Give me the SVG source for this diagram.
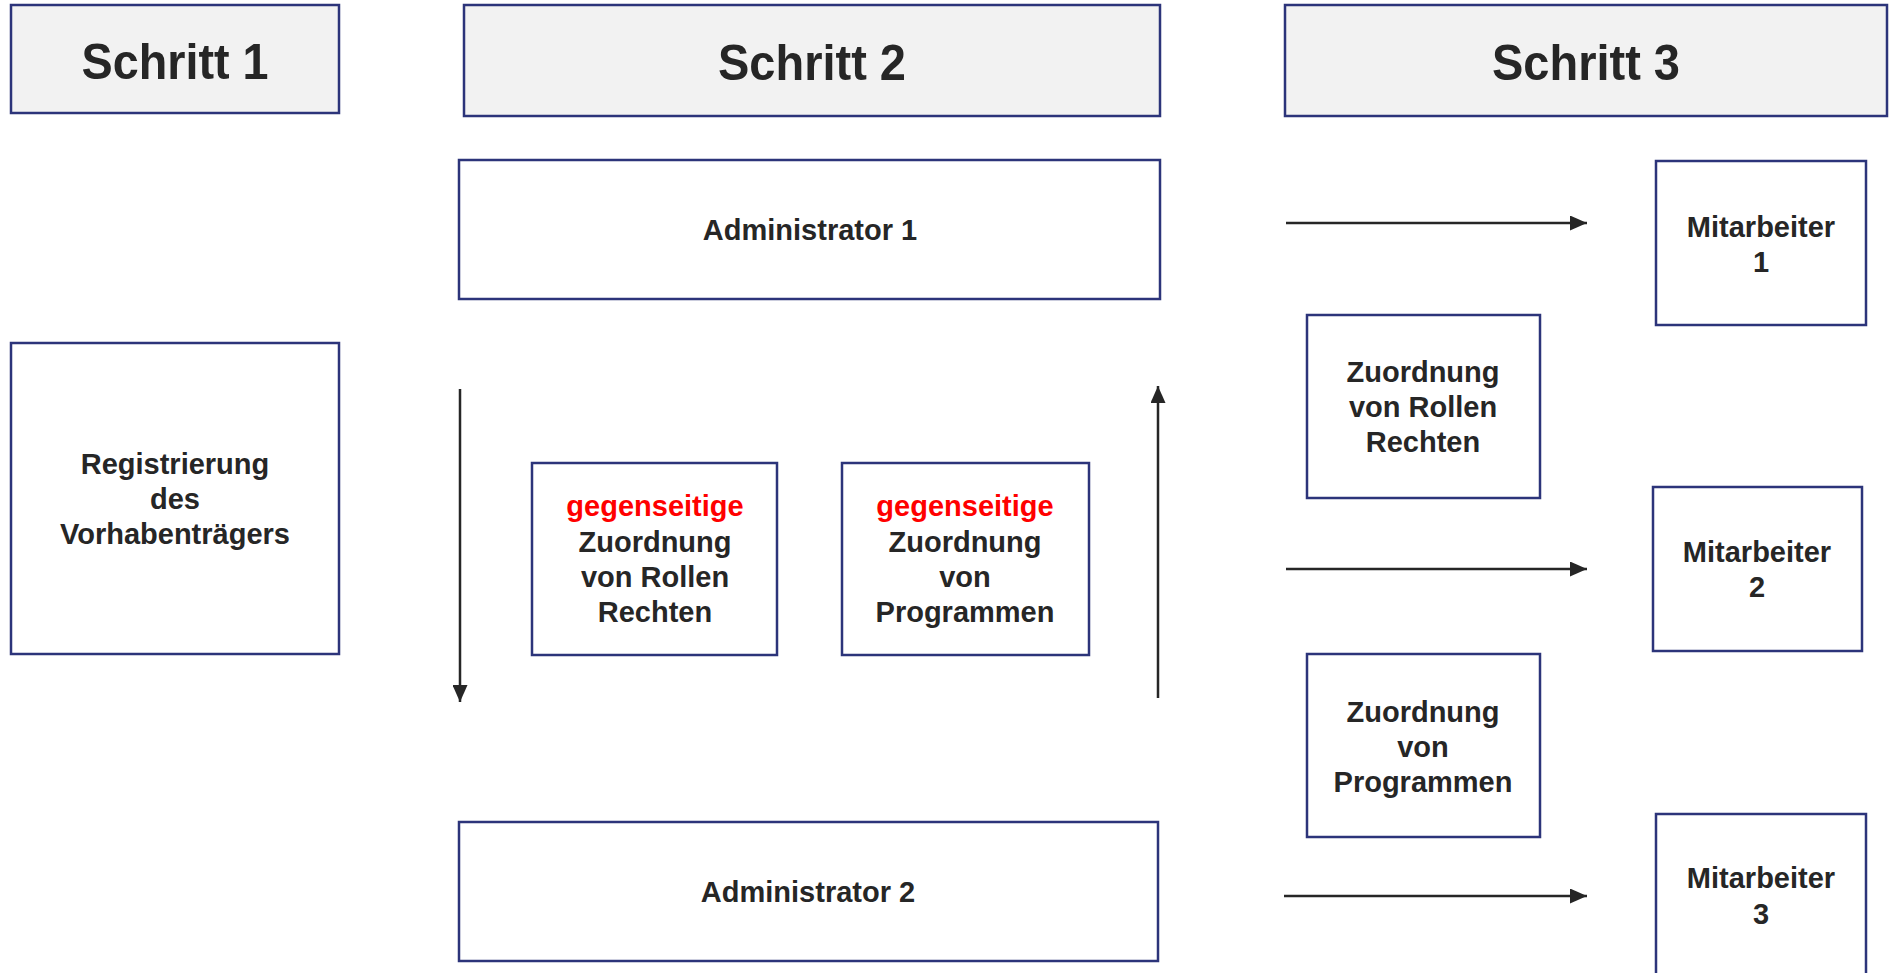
<svg xmlns="http://www.w3.org/2000/svg" width="1889" height="973" viewBox="0 0 1889 973">
<style>
.box{fill:#ffffff;stroke:#2c347a;stroke-width:2.5}
.head{fill:#f2f2f2;stroke:#2c347a;stroke-width:2.5}
.t{font-family:"Liberation Sans",Arial,sans-serif;font-weight:bold;font-size:29px;fill:#262626;text-anchor:middle}
.h{font-family:"Liberation Sans",Arial,sans-serif;font-weight:bold;font-size:50px;fill:#262626;text-anchor:middle}
.red{fill:#ff0000}
.c{stroke:#262626;stroke-width:2.5;fill:none;marker-end:url(#arr)}
</style>
<defs>
<marker id="arr" markerWidth="17" markerHeight="15" refX="17" refY="7.5" orient="auto" markerUnits="userSpaceOnUse">
<path d="M0,0 L17,7.5 L0,15 Z" fill="#262626"/>
</marker>
</defs>
<rect width="1889" height="973" fill="#ffffff"/>
<g id="schritt1"><rect class="head" x="11" y="5" width="328" height="108"/><text class="h" x="175" y="79" textLength="187" lengthAdjust="spacingAndGlyphs">Schritt 1</text></g>
<g id="schritt2"><rect class="head" x="464" y="5" width="696" height="111"/><text class="h" x="812" y="80" textLength="188" lengthAdjust="spacingAndGlyphs">Schritt 2</text></g>
<g id="schritt3"><rect class="head" x="1285" y="5" width="602" height="111"/><text class="h" x="1586" y="80" textLength="188" lengthAdjust="spacingAndGlyphs">Schritt 3</text></g>
<g id="admin1"><rect class="box" x="459" y="160" width="701" height="139"/><text class="t" x="810" y="240">Administrator 1</text></g>
<g id="registrierung"><rect class="box" x="11" y="343" width="328" height="311"/><text class="t" x="175" y="474">Registrierung</text><text class="t" x="175" y="509">des</text><text class="t" x="175" y="544">Vorhabenträgers</text></g>
<g id="gegenseitig-rollen"><rect class="box" x="532" y="463" width="245" height="192"/><text class="t red" x="655" y="516">gegenseitige</text><text class="t" x="655" y="552">Zuordnung</text><text class="t" x="655" y="587">von Rollen</text><text class="t" x="655" y="622">Rechten</text></g>
<g id="gegenseitig-programme"><rect class="box" x="842" y="463" width="247" height="192"/><text class="t red" x="965" y="516">gegenseitige</text><text class="t" x="965" y="552">Zuordnung</text><text class="t" x="965" y="587">von</text><text class="t" x="965" y="622">Programmen</text></g>
<g id="admin2"><rect class="box" x="459" y="822" width="699" height="139"/><text class="t" x="808" y="902">Administrator 2</text></g>
<g id="mitarbeiter1"><rect class="box" x="1656" y="161" width="210" height="164"/><text class="t" x="1761" y="237">Mitarbeiter</text><text class="t" x="1761" y="272">1</text></g>
<g id="zuordnung-rollen"><rect class="box" x="1307" y="315" width="233" height="183"/><text class="t" x="1423" y="382">Zuordnung</text><text class="t" x="1423" y="417">von Rollen</text><text class="t" x="1423" y="452">Rechten</text></g>
<g id="mitarbeiter2"><rect class="box" x="1653" y="487" width="209" height="164"/><text class="t" x="1757" y="562">Mitarbeiter</text><text class="t" x="1757" y="597">2</text></g>
<g id="zuordnung-programme"><rect class="box" x="1307" y="654" width="233" height="183"/><text class="t" x="1423" y="722">Zuordnung</text><text class="t" x="1423" y="757">von</text><text class="t" x="1423" y="792">Programmen</text></g>
<g id="mitarbeiter3"><rect class="box" x="1656" y="814" width="210" height="164"/><text class="t" x="1761" y="888">Mitarbeiter</text><text class="t" x="1761" y="924">3</text></g>
<g id="connectors">
<line class="c" x1="460" y1="389" x2="460" y2="702"/>
<line class="c" x1="1158" y1="698" x2="1158" y2="386"/>
<line class="c" x1="1286" y1="223" x2="1587" y2="223"/>
<line class="c" x1="1286" y1="569" x2="1587" y2="569"/>
<line class="c" x1="1284" y1="896" x2="1587" y2="896"/>
</g>
</svg>
